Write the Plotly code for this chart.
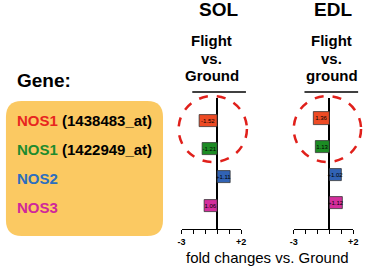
import plotly.graph_objects as go

W, H = 368, 267
def X(px): return px / W
def Y(py): return 1 - py / H

genes = ["NOS1 (1438483_at)", "NOS1 (1422949_at)", "NOS2", "NOS3"]
gene_names = ["NOS1", "NOS1", "NOS2", "NOS3"]
gene_probes = [" (1438483_at)", " (1422949_at)", "", ""]
bar_colors = ["#EE4B24", "#1C8C24", "#3163B5", "#D42E9C"]
text_colors = ["#E8251F", "#1E8B2E", "#2C6EBF", "#D0279A"]
sol_values = [-1.52, -1.21, 1.11, -1.06]
sol_labels = ["-1.52", "-1.21", "+1.11", "1.06"]
edl_values = [-1.36, -1.13, 1.02, 1.12]
edl_labels = ["1.36", "1.13", "+1.02", "+1.12"]
tick_vals = [-3, -2, -1, 0, 1, 2]
tick_text = ["<b>-3</b>", "", "", "", "", "<b>+2</b>"]
rows = [0, 1, 2, 3]

FONT = "Arial, 'Liberation Sans', sans-serif"

fig = go.Figure()
fig.add_trace(go.Bar(
    y=rows, x=sol_values, orientation="h", base=0, width=0.43,
    marker=dict(color=bar_colors, line=dict(color="#333333", width=0.8)),
    text=sol_labels, textposition="inside", insidetextanchor="middle",
    textfont=dict(size=6, color="black", family=FONT),
    xaxis="x", yaxis="y", showlegend=False, hoverinfo="skip"))
fig.add_trace(go.Bar(
    y=rows, x=edl_values, orientation="h", base=0, width=0.43,
    marker=dict(color=bar_colors, line=dict(color="#333333", width=0.8)),
    text=edl_labels, textposition="inside", insidetextanchor="middle",
    textfont=dict(size=6, color="black", family=FONT),
    xaxis="x2", yaxis="y2", showlegend=False, hoverinfo="skip"))

xcommon = dict(range=[-3, 2], tickvals=tick_vals, ticktext=tick_text,
               showgrid=False, zeroline=True, zerolinecolor="black", zerolinewidth=1.5,
               showline=True, linecolor="black", linewidth=1, ticks="outside",
               ticklen=4, tickcolor="black", tickfont=dict(size=9, color="black", family=FONT),
               fixedrange=True)
ycommon = dict(showgrid=False, zeroline=False, showticklabels=False, showline=False,
               ticks="", fixedrange=True, domain=[Y(229), Y(98)])

sp = 28.2
def yrange(c0):
    return [(229 - c0) / sp, (98 - c0) / sp]

fig.update_layout(
    width=W, height=H, margin=dict(l=0, r=0, t=0, b=0),
    paper_bgcolor="white", plot_bgcolor="rgba(0,0,0,0)",
    bargap=0, barmode="overlay",
    uniformtext=dict(minsize=6, mode="show"),
    font=dict(family=FONT, color="black"),
    xaxis=dict(domain=[X(182), X(243)], anchor="y", **xcommon),
    xaxis2=dict(domain=[X(297), X(358)], anchor="y2", **xcommon),
    yaxis=dict(anchor="x", range=yrange(121), **ycommon),
    yaxis2=dict(anchor="x2", range=yrange(118.5), **ycommon),
)

shapes = []
x0, x1, y0, y1, r = 2, 163, 101, 236, 16
def P(px, py): return f"{X(px):.5f},{Y(py):.5f}"
path = (f"M {P(x0+r, y0)} L {P(x1-r, y0)} Q {P(x1, y0)} {P(x1, y0+r)} "
        f"L {P(x1, y1-r)} Q {P(x1, y1)} {P(x1-r, y1)} L {P(x0+r, y1)} "
        f"Q {P(x0, y1)} {P(x0, y1-r)} L {P(x0, y0+r)} Q {P(x0, y0)} {P(x0+r, y0)} Z")
shapes.append(dict(type="path", path=path, xref="paper", yref="paper",
                   fillcolor="#FBC962", line=dict(width=0), layer="below"))
for a, b in [(193, 248), (308, 363)]:
    shapes.append(dict(type="line", xref="paper", yref="paper", x0=X(a), x1=X(b),
                       y0=Y(92), y1=Y(92), line=dict(color="black", width=1.5)))
for a, b in [(179, 249), (297, 366)]:
    shapes.append(dict(type="circle", xref="paper", yref="paper", x0=X(a), x1=X(b),
                       y0=Y(162), y1=Y(96), line=dict(color="#E0201B", width=2.5, dash="dash"),
                       layer="above"))
fig.update_layout(shapes=shapes)

ann = []
def A(text, px, py, size, xanchor="center", bold=True, color="black"):
    t = f"<b>{text}</b>" if bold else text
    ann.append(dict(text=t, x=X(px), y=Y(py), xref="paper", yref="paper",
                    xanchor=xanchor, yanchor="middle", showarrow=False,
                    font=dict(size=size, color=color, family=FONT)))

A("Gene:", 11, 80, 19, xanchor="left")
row_py = [120.5, 149, 178, 207]
for name, probe, col, py in zip(gene_names, gene_probes, text_colors, row_py):
    A(f"<span style='color:{col}'>{name}</span>{probe}", 11, py, 15, xanchor="left")

A("SOL", 220, 10, 19)
A("EDL", 337, 10, 19)
for cx, lines in [(213, ["Flight", "vs.", "Ground"]), (336, ["Flight", "vs.", "ground"])]:
    for txt, py in zip(lines, [40, 59, 75]):
        A(txt, cx, py, 15)
A("fold changes vs. Ground", 270, 257, 15, bold=False)
fig.update_layout(annotations=ann)

fig.write_html("out.html")
